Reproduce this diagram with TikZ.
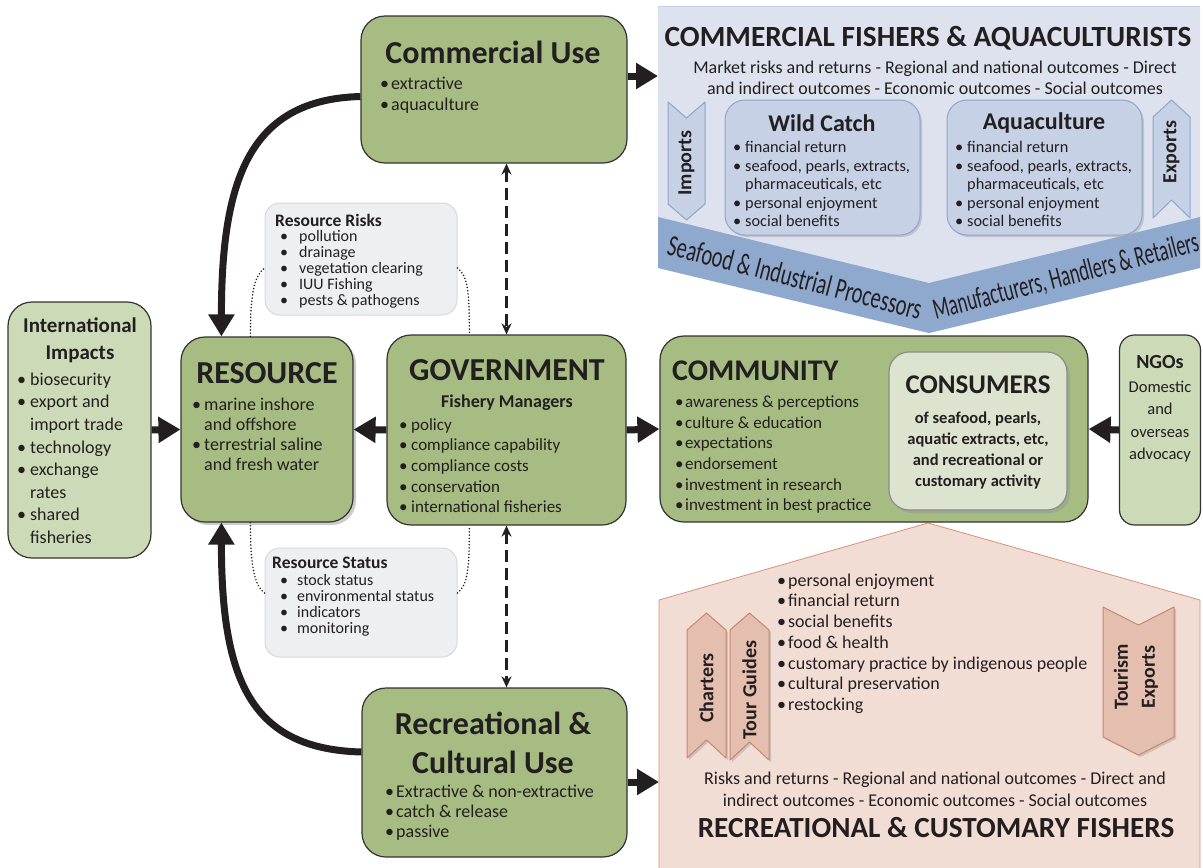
\documentclass[tikz,border=0pt]{standalone}
\usepackage{fontspec}
\setmainfont{Carlito}
\usetikzlibrary{arrows.meta, positioning, calc, shadows}

\definecolor{ink}{HTML}{231F20}
\definecolor{gmain}{HTML}{A6BC82}
\definecolor{glight}{HTML}{CCDAB7}
\definecolor{gcons}{HTML}{DCE3CE}
\definecolor{cpanel}{HTML}{DDE2EE}
\definecolor{cband}{HTML}{8FA8CE}
\definecolor{cbox}{HTML}{C6D1E5}
\definecolor{cboxline}{HTML}{8FA5CB}
\definecolor{rpanel}{HTML}{F2DDD4}
\definecolor{rline}{HTML}{D7917D}
\definecolor{rchev}{HTML}{E4BEAE}
\definecolor{rchevline}{HTML}{C88770}
\definecolor{note}{HTML}{EEEFF1}
\definecolor{noteline}{HTML}{D6D8DB}

\newcommand{\fs}[2]{\fontsize{#1}{#2}\selectfont}
\newcommand{\bul}[1][11pt]{\makebox[#1][l]{•}}
\newcommand{\bgap}[1][11pt]{\hspace*{#1}}

\begin{document}
\begin{tikzpicture}[x=1pt, y=-1pt, line join=round,
    txt/.style={inner sep=0pt, text=ink},
    gbox/.style={draw=black!80, line width=1.2pt, fill=gmain, rounded corners=24pt, inner sep=0pt},
    lbox/.style={gbox, fill=glight},
    notebox/.style={draw=noteline, line width=1pt, fill=note, rounded corners=15pt, inner sep=0pt},
    subbox/.style={draw=cboxline, line width=1pt, fill=cbox, rounded corners=20pt, inner sep=0pt,
        drop shadow={shadow xshift=2pt, shadow yshift=-2pt, fill=black!35}},
    fat/.style={line width=7pt, draw=ink, -{Triangle[length=22pt,width=25pt]}},
    dashlink/.style={line width=2.6pt, draw=ink, dash pattern=on 12pt off 6pt,
        {Stealth[length=11pt,width=10pt]}-{Stealth[length=11pt,width=10pt]}},
    dotlink/.style={line width=1.7pt, draw=ink, line cap=round, dash pattern=on 0pt off 3.2pt},
    bchev/.style={draw=cboxline, line width=1pt, fill=cbox},
    pchev/.style={draw=rchevline, line width=1pt, fill=rchev,
        drop shadow={shadow xshift=2pt, shadow yshift=-2pt, fill=black!35}}]

\useasboundingbox (0,0) rectangle (1203,868);

% 商业渔民与养殖者
\coordinate (C1) at (658,6);
\coordinate (C2) at (1200,6);
\coordinate (C3) at (1200,268);
\coordinate (C4) at (929,333);
\coordinate (C5) at (658,268);
\coordinate (B1) at (658,217);
\coordinate (B2) at (929,283);
\coordinate (B3) at (1200,217);
\fill[cpanel] (C1) -- (C2) -- (C3) -- (C4) -- (C5) -- cycle;
\draw[cboxline!50, line width=0.6pt] (C1) -- (C2);
\fill[cband] (B1) -- (B2) -- (B3) -- (C3) -- (C4) -- (C5) -- cycle;

\node[txt, font=\bfseries\fs{29.3}{31}] (cfT) at (928,38) {COMMERCIAL FISHERS \& AQUACULTURISTS};
\node[txt, align=center, font=\fs{18}{21}] (cfS) at (935,77.5)
    {Market risks and returns - Regional and national outcomes - Direct\\
     and indirect outcomes - Economic outcomes - Social outcomes};

\draw[bchev] (668,102) -- (686.5,118) -- (705,102) -- (705,204) -- (686.5,220) -- (668,204) -- cycle;
\node[txt, rotate=90, font=\bfseries\fs{20}{20}] (impT) at (686.5,163) {Imports};
\draw[bchev] (1153,117) -- (1171.5,100) -- (1190,117) -- (1190,218) -- (1171.5,200) -- (1153,218) -- cycle;
\node[txt, rotate=90, font=\bfseries\fs{20}{20}] (expT) at (1171.5,152) {Exports};

\node[subbox, minimum width=195pt, minimum height=135pt] (wc) at (822.5,167.5) {};
\node[txt, font=\bfseries\fs{24}{26}] (wcT) at (822,123) {Wild Catch};
\node[txt, anchor=north west, align=left, font=\fs{16.3}{18.5}] (wcL) at (733,141)
    {\bul[12pt]financial return\\\bul[12pt]seafood, pearls, extracts,\\\bgap[12pt]pharmaceuticals, etc\\
     \bul[12pt]personal enjoyment\\\bul[12pt]social benefits};
\node[subbox, minimum width=195pt, minimum height=135pt] (aq) at (1044.5,167.5) {};
\node[txt, font=\bfseries\fs{24}{26}] (aqT) at (1044,123) {Aquaculture};
\node[txt, anchor=north west, align=left, font=\fs{16.3}{18.5}] (aqL) at (955,141)
    {\bul[12pt]financial return\\\bul[12pt]seafood, pearls, extracts,\\\bgap[12pt]pharmaceuticals, etc\\
     \bul[12pt]personal enjoyment\\\bul[12pt]social benefits};

\node[txt, rotate=-14.5, font=\fs{30}{30}] (bandL) at (795,277)
    {\scalebox{0.68}[1]{Seafood \& Industrial Processors}};
\node[txt, rotate=14.5, font=\fs{30}{30}] (bandR) at (1066,277)
    {\scalebox{0.62}[1]{Manufacturers, Handlers \& Retailers}};

% 休闲与习俗渔民
\coordinate (R1) at (659,872);
\coordinate (R2) at (659,600);
\coordinate (R3) at (928,523);
\coordinate (R4) at (1200,600);
\coordinate (R5) at (1200,872);
\draw[rline, fill=rpanel, line width=0.8pt] (R1) -- (R2) -- (R3) -- (R4) -- (R5);

\node[txt, anchor=north west, align=left, font=\fs{18}{20.7}] (rfL) at (777,573.5)
    {\bul personal enjoyment\\\bul financial return\\\bul social benefits\\\bul food \& health\\
     \bul customary practice by indigenous people\\\bul cultural preservation\\\bul restocking};

\draw[pchev] (687,630) -- (706.5,613) -- (726,630) -- (726,758) -- (706.5,740) -- (687,758) -- cycle;
\node[txt, rotate=90, font=\bfseries\fs{20}{20}] (chT) at (706.5,688) {Charters};
\draw[pchev] (730,630) -- (749.5,613) -- (769,630) -- (769,760) -- (749.5,742) -- (730,760) -- cycle;
\node[txt, rotate=90, font=\bfseries\fs{20}{20}] (tgT) at (749.5,690) {Tour Guides};
\draw[pchev] (1103,607) -- (1138.5,625) -- (1174,607) -- (1174,737) -- (1138.5,755) -- (1103,737) -- cycle;
\node[txt, rotate=90, align=center, font=\bfseries\fs{20}{27}] (teT) at (1136,677) {Tourism\\Exports};

\node[txt, align=center, font=\fs{18}{22}] (rfS) at (935,789)
    {Risks and returns - Regional and national outcomes - Direct and\\
     indirect outcomes - Economic outcomes - Social outcomes};
\node[txt, font=\bfseries\fs{29.2}{31}] (rfT) at (936,828) {RECREATIONAL \& CUSTOMARY FISHERS};

% 资源风险与资源状况
\node[notebox, minimum width=192pt, minimum height=112pt] (risks) at (361,259) {};
\node[txt, anchor=west, font=\bfseries\fs{17.5}{20}] (risksT) at (275,220) {Resource Risks};
\node[txt, anchor=north west, align=left, font=\fs{16}{15.8}] (risksL) at (280,230.5)
    {\bul[19pt]pollution\\\bul[19pt]drainage\\\bul[19pt]vegetation clearing\\\bul[19pt]IUU Fishing\\\bul[19pt]pests \& pathogens};
\node[notebox, minimum width=192pt, minimum height=109pt] (status) at (361,602.5) {};
\node[txt, anchor=west, font=\bfseries\fs{17.5}{20}] (statusT) at (272,563) {Resource Status};
\node[txt, anchor=north west, align=left, font=\fs{16}{16}] (statusL) at (280,574.5)
    {\bul[17pt]stock status\\\bul[17pt]environmental status\\\bul[17pt]indicators\\\bul[17pt]monitoring};

% 主要方框
\node[gbox, minimum width=266pt, minimum height=147pt] (cu) at (494,89.5) {};
\node[txt, font=\bfseries\fs{32}{36}] (cuT) at (493,52) {Commercial Use};
\node[txt, anchor=north west, align=left, font=\fs{18}{21}] (cuL) at (380,77)
    {\bul extractive\\\bul aquaculture};

\node[gbox, minimum width=172pt, minimum height=185pt,
      drop shadow={shadow xshift=3pt, shadow yshift=-3pt, fill=black!40}] (res) at (267,429.5) {};
\node[txt, font=\bfseries\fs{32}{36}] (resT) at (267,373) {RESOURCE};
\node[txt, anchor=north west, align=left, font=\fs{18}{20}] (resL) at (192,397.5)
    {\bul[12pt]marine inshore\\\bgap[12pt]and offshore\\\bul[12pt]terrestrial saline\\\bgap[12pt]and fresh water};

\node[lbox, minimum width=143pt, minimum height=256pt] (intl) at (79.5,430) {};
\node[txt, align=center, font=\bfseries\fs{21}{27}] (intlT) at (80,340) {International\\Impacts};
\node[txt, anchor=north west, align=left, font=\fs{18}{22.6}] (intlL) at (17,372.5)
    {\bul[13pt]biosecurity\\\bul[13pt]export and\\\bgap[13pt]import trade\\\bul[13pt]technology\\
     \bul[13pt]exchange\\\bgap[13pt]rates\\\bul[13pt]shared\\\bgap[13pt]fisheries};

\node[gbox, minimum width=239pt, minimum height=190pt] (gov) at (506.5,430) {};
\node[txt, font=\bfseries\fs{32}{36}] (govT) at (507,370) {GOVERNMENT};
\node[txt, font=\bfseries\fs{18}{20}] (govS) at (507,403) {Fishery Managers};
\node[txt, anchor=north west, align=left, font=\fs{17}{20.7}] (govL) at (399,418)
    {\bul[12pt]policy\\\bul[12pt]compliance capability\\\bul[12pt]compliance costs\\
     \bul[12pt]conservation\\\bul[12pt]international fisheries};

\node[gbox, minimum width=428pt, minimum height=186pt] (com) at (874,429) {};
\node[txt, anchor=west, font=\bfseries\fs{30}{34}] (comT) at (672,371) {COMMUNITY};
\node[txt, anchor=north west, align=left, font=\fs{17}{20.7}] (comL) at (675,395.5)
    {\bul[10pt]awareness \& perceptions\\\bul[10pt]culture \& education\\\bul[10pt]expectations\\
     \bul[10pt]endorsement\\\bul[10pt]investment in research\\\bul[10pt]investment in best practice};

\node[gbox, fill=gcons, draw=black!45, rounded corners=20pt, minimum width=178pt, minimum height=158pt,
      drop shadow={shadow xshift=3pt, shadow yshift=-3pt, fill=black!40}] (cons) at (978,431) {};
\node[txt, font=\bfseries\fs{27}{30}] (consT) at (978,385) {CONSUMERS};
\node[txt, align=center, font=\bfseries\fs{16.5}{21.3}] (consL) at (978,450.5)
    {of seafood, pearls,\\aquatic extracts, etc,\\and recreational or\\customary activity};

\node[lbox, rounded corners=15pt, minimum width=81pt, minimum height=190pt] (ngo) at (1160,430) {};
\node[txt, font=\bfseries\fs{20}{22}] (ngoT) at (1160,362) {NGOs};
\node[txt, align=center, font=\fs{16.5}{22.3}] (ngoL) at (1160,421.5) {Domestic\\and\\overseas\\advocacy};

\node[gbox, minimum width=265pt, minimum height=169pt] (rec) at (494.5,772.5) {};
\node[txt, align=center, font=\bfseries\fs{32}{39}] (recT) at (493,742.5) {Recreational \&\\Cultural Use};
\node[txt, anchor=north west, align=left, font=\fs{18}{20}] (recL) at (385,785)
    {\bul Extractive \& non-extractive\\\bul catch \& release\\\bul passive};

% 连接箭头
\coordinate (cfin) at (658,76);
\coordinate (rfin) at (659,782);
\draw[fat] (cu.east |- cfin) -- (cfin);
\draw[fat] (rec.east |- rfin) -- (rfin);
\draw[fat] (intl.east) -- (res.west);
\draw[fat] (gov.west) -- (res.east);
\draw[fat] (gov.east) -- (com.west);
\draw[fat] (ngo.west) -- (com.east);
\draw[fat] ([yshift=-7pt]cu.west) .. controls +(-111,3) and +(0,-157) .. ([xshift=41pt]res.north west);
\draw[fat] ([yshift=20.5pt]rec.west) .. controls +(-111,-3) and +(0,157) .. ([xshift=41pt]res.south west);

\draw[dashlink] (gov.north |- cu.south) -- (gov.north);
\draw[dashlink] (gov.south) -- (gov.south |- rec.north);

% 虚线弧
\draw[dotlink] ([xshift=70pt]res.north west) .. controls +(0,-45) and +(-10,8) .. ([yshift=-9pt]risks.west);
\draw[dotlink] ([yshift=-9pt]risks.east) .. controls +(10,8) and +(0,-45) .. ([xshift=83pt]gov.north west);
\draw[dotlink] ([xshift=70pt]res.south west) .. controls +(0,45) and +(-10,-8) .. ([yshift=9.5pt]status.west);
\draw[dotlink] ([yshift=9.5pt]status.east) .. controls +(10,-8) and +(0,45) .. ([xshift=83pt]gov.south west);
\end{tikzpicture}
\end{document}
